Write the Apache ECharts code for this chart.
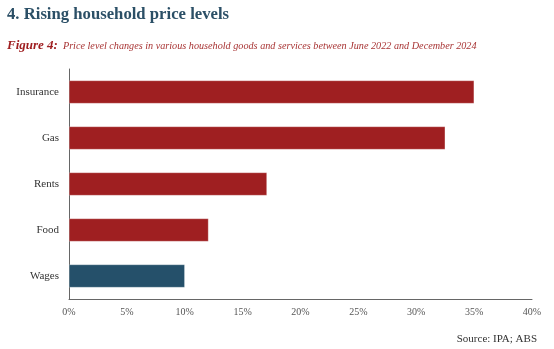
<!DOCTYPE html>
<html><head><meta charset="utf-8">
<script src="https://cdn.jsdelivr.net/npm/echarts@6/dist/echarts.min.js"></script>
<style>html,body{margin:0;padding:0;background:#fff}#c{width:554px;height:349px}</style>
</head><body><div id="c"></div>
<script>
const categories = ['Wages', 'Food', 'Rents', 'Gas', 'Insurance'];
const values = [10.0, 12.05, 17.1, 32.5, 35.0];
const barColors = ['#25506a', '#9f1f21', '#9f1f21', '#9f1f21', '#9f1f21'];
const xTicks = [0, 5, 10, 15, 20, 25, 30, 35, 40];

const serif = '"Liberation Serif", "DejaVu Serif", serif';
const chart = echarts.init(document.getElementById('c'), null, {renderer: 'canvas'});
chart.setOption({
  animation: false,
  backgroundColor: '#fff',
  title: [
    {text: '4. Rising household price levels', left: 7, top: 6, padding: 0,
     textStyle: {fontFamily: serif, fontWeight: 'bold', fontSize: 16.7, color: '#2b4f66'}},
    {text: '{b|Figure 4:} {i|Price level changes in various household goods and services between June 2022 and December 2024}',
     left: 7, top: 37, padding: 0,
     textStyle: {fontWeight: 'normal', rich: {
       b: {fontFamily: serif, fontStyle: 'italic', fontWeight: 'bold', fontSize: 13, color: '#9f1f21'},
       i: {fontFamily: serif, fontStyle: 'italic', fontWeight: 'normal', fontSize: 10.2, color: '#a83434'}
     }}},
    {text: 'Source: IPA; ABS', right: 17, top: 334, padding: 0,
     textStyle: {fontFamily: serif, fontWeight: 'normal', fontSize: 11, color: '#333'}}
  ],
  grid: {left: 69, right: 22, top: 69, bottom: 50, containLabel: false},
  xAxis: {
    type: 'value', min: xTicks[0], max: xTicks[xTicks.length - 1], interval: 5,
    axisLine: {show: true, lineStyle: {color: '#666', width: 1}},
    axisTick: {show: false},
    splitLine: {show: false},
    axisLabel: {formatter: v => v + '%', fontFamily: serif, fontSize: 10, color: '#555', margin: 8}
  },
  yAxis: {
    type: 'category', data: categories,
    axisLine: {show: true, lineStyle: {color: '#666', width: 1}},
    axisTick: {show: false},
    axisLabel: {fontFamily: serif, fontSize: 11, color: '#333', margin: 10}
  },
  series: [{
    type: 'bar', barWidth: '50%',
    data: values.map((v, i) => ({value: v, itemStyle: {color: barColors[i]}})),
    itemStyle: {borderColor: 'rgba(255,255,255,0.5)', borderWidth: 0.5}
  }]
});
</script></body></html>
